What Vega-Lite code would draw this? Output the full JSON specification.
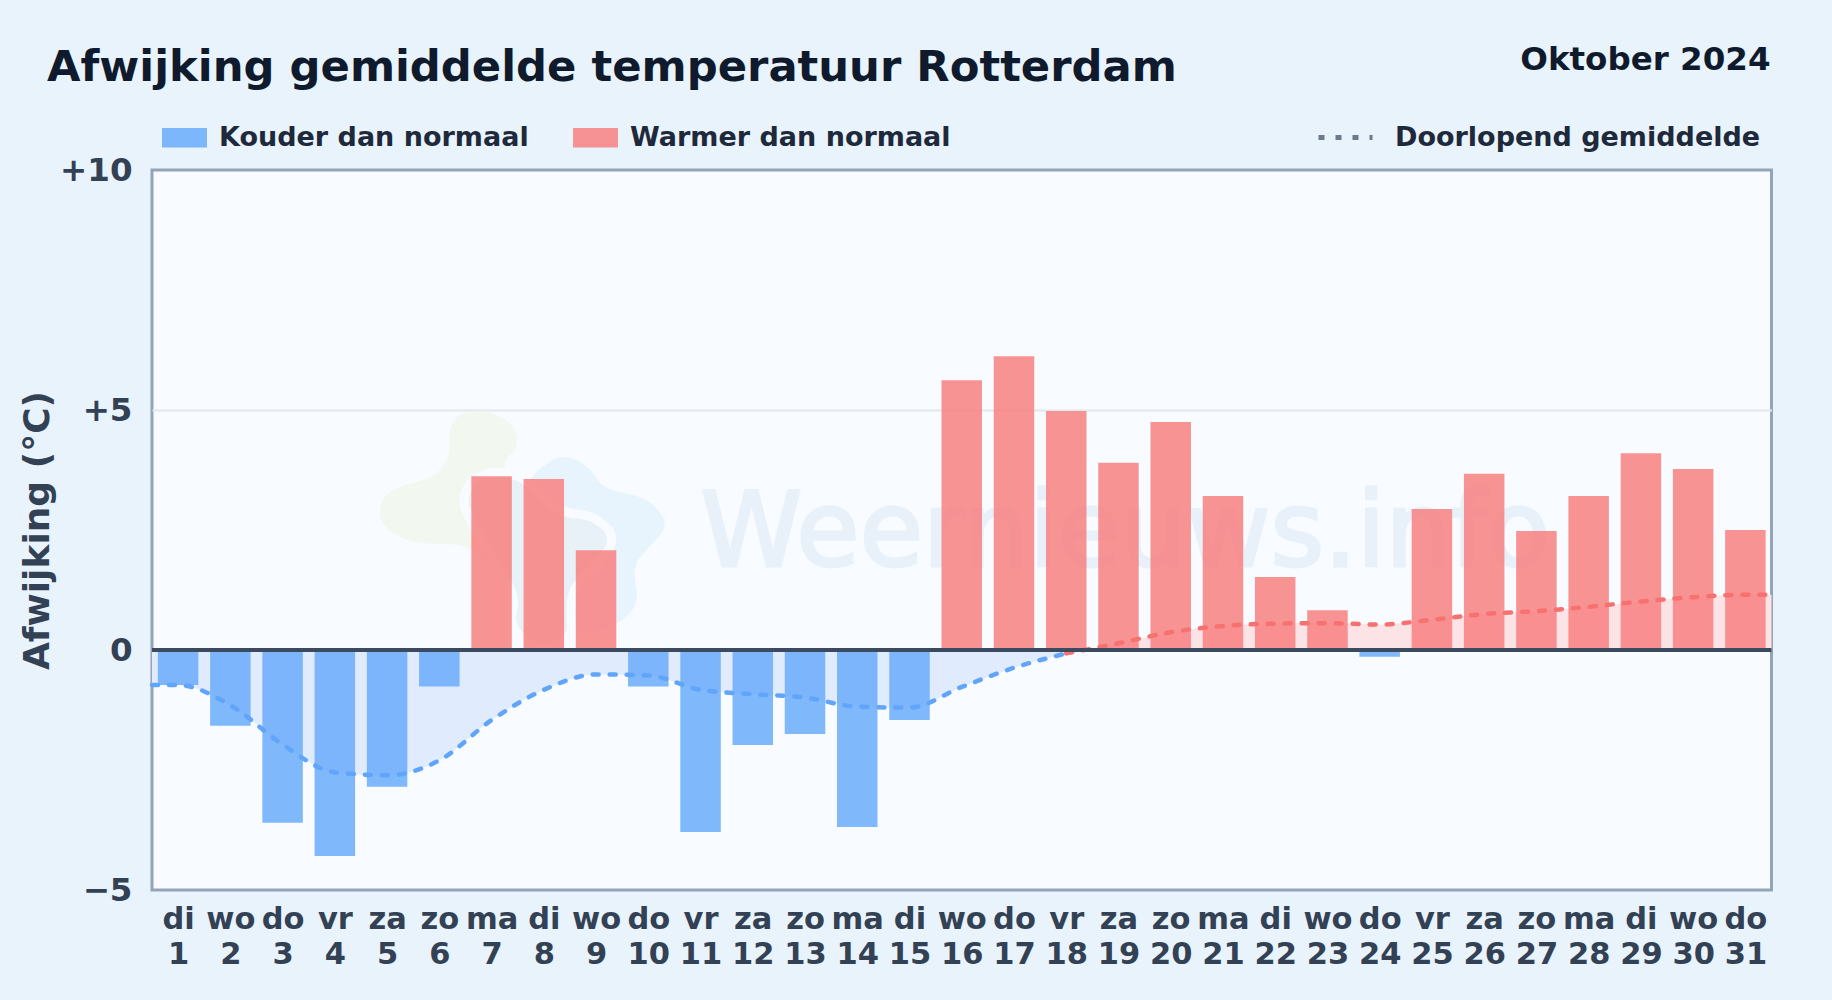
{
"$schema":"https://vega.github.io/schema/vega-lite/v6.json",
"width":1619.5,"height":720,
"autosize":"none",
"padding":{"left":152,"top":170,"right":60,"bottom":110},
"background":"#e9f3fc",
"title":{"text":"Afwijking gemiddelde temperatuur Rotterdam","anchor":"start","frame":"group","dx":-105,"offset":0,"dy":80,"baseline":"alphabetic","font":"DejaVu Sans","fontWeight":"bold","fontSize":43.3,"color":"#0f1b2d"},
"config":{"view":{"fill":"#f8fbff","stroke":"#94a3b8","strokeWidth":3},"font":"DejaVu Sans"},
"datasets":{
"days":[
{"day":1,"dev":-0.73,"type":"Kouder dan normaal"},{"day":2,"dev":-1.58,"type":"Kouder dan normaal"},{"day":3,"dev":-3.6,"type":"Kouder dan normaal"},{"day":4,"dev":-4.29,"type":"Kouder dan normaal"},{"day":5,"dev":-2.85,"type":"Kouder dan normaal"},{"day":6,"dev":-0.76,"type":"Kouder dan normaal"},{"day":7,"dev":3.62,"type":"Warmer dan normaal"},{"day":8,"dev":3.56,"type":"Warmer dan normaal"},{"day":9,"dev":2.08,"type":"Warmer dan normaal"},{"day":10,"dev":-0.76,"type":"Kouder dan normaal"},{"day":11,"dev":-3.79,"type":"Kouder dan normaal"},{"day":12,"dev":-1.98,"type":"Kouder dan normaal"},{"day":13,"dev":-1.75,"type":"Kouder dan normaal"},{"day":14,"dev":-3.69,"type":"Kouder dan normaal"},{"day":15,"dev":-1.46,"type":"Kouder dan normaal"},{"day":16,"dev":5.62,"type":"Warmer dan normaal"},{"day":17,"dev":6.12,"type":"Warmer dan normaal"},{"day":18,"dev":4.98,"type":"Warmer dan normaal"},{"day":19,"dev":3.9,"type":"Warmer dan normaal"},{"day":20,"dev":4.75,"type":"Warmer dan normaal"},{"day":21,"dev":3.21,"type":"Warmer dan normaal"},{"day":22,"dev":1.52,"type":"Warmer dan normaal"},{"day":23,"dev":0.83,"type":"Warmer dan normaal"},{"day":24,"dev":-0.14,"type":"Kouder dan normaal"},{"day":25,"dev":2.94,"type":"Warmer dan normaal"},{"day":26,"dev":3.67,"type":"Warmer dan normaal"},{"day":27,"dev":2.48,"type":"Warmer dan normaal"},{"day":28,"dev":3.21,"type":"Warmer dan normaal"},{"day":29,"dev":4.1,"type":"Warmer dan normaal"},{"day":30,"dev":3.77,"type":"Warmer dan normaal"},{"day":31,"dev":2.5,"type":"Warmer dan normaal"}
],
"mean":[
{"day":0.5,"mean":-0.73,"sign":"neg","name":"Doorlopend gemiddelde"},{"day":1,"mean":-0.73,"sign":"neg","name":"Doorlopend gemiddelde"},{"day":2,"mean":-1.15,"sign":"neg","name":"Doorlopend gemiddelde"},{"day":3,"mean":-1.97,"sign":"neg","name":"Doorlopend gemiddelde"},{"day":4,"mean":-2.55,"sign":"neg","name":"Doorlopend gemiddelde"},{"day":5,"mean":-2.61,"sign":"neg","name":"Doorlopend gemiddelde"},{"day":6,"mean":-2.3,"sign":"neg","name":"Doorlopend gemiddelde"},{"day":7,"mean":-1.46,"sign":"neg","name":"Doorlopend gemiddelde"},{"day":8,"mean":-0.83,"sign":"neg","name":"Doorlopend gemiddelde"},{"day":9,"mean":-0.51,"sign":"neg","name":"Doorlopend gemiddelde"},{"day":10,"mean":-0.53,"sign":"neg","name":"Doorlopend gemiddelde"},{"day":11,"mean":-0.83,"sign":"neg","name":"Doorlopend gemiddelde"},{"day":12,"mean":-0.92,"sign":"neg","name":"Doorlopend gemiddelde"},{"day":13,"mean":-0.99,"sign":"neg","name":"Doorlopend gemiddelde"},{"day":14,"mean":-1.18,"sign":"neg","name":"Doorlopend gemiddelde"},{"day":15,"mean":-1.2,"sign":"neg","name":"Doorlopend gemiddelde"},{"day":16,"mean":-0.77,"sign":"neg","name":"Doorlopend gemiddelde"},{"day":17,"mean":-0.37,"sign":"neg","name":"Doorlopend gemiddelde"},{"day":18,"mean":-0.07,"sign":"neg","name":"Doorlopend gemiddelde"},
{"day":18,"mean":-0.07,"sign":"pos","name":"Doorlopend gemiddelde"},{"day":19,"mean":0.14,"sign":"pos","name":"Doorlopend gemiddelde"},{"day":20,"mean":0.37,"sign":"pos","name":"Doorlopend gemiddelde"},{"day":21,"mean":0.5,"sign":"pos","name":"Doorlopend gemiddelde"},{"day":22,"mean":0.55,"sign":"pos","name":"Doorlopend gemiddelde"},{"day":23,"mean":0.56,"sign":"pos","name":"Doorlopend gemiddelde"},{"day":24,"mean":0.53,"sign":"pos","name":"Doorlopend gemiddelde"},{"day":25,"mean":0.63,"sign":"pos","name":"Doorlopend gemiddelde"},{"day":26,"mean":0.75,"sign":"pos","name":"Doorlopend gemiddelde"},{"day":27,"mean":0.81,"sign":"pos","name":"Doorlopend gemiddelde"},{"day":28,"mean":0.9,"sign":"pos","name":"Doorlopend gemiddelde"},{"day":29,"mean":1.01,"sign":"pos","name":"Doorlopend gemiddelde"},{"day":30,"mean":1.1,"sign":"pos","name":"Doorlopend gemiddelde"},{"day":31,"mean":1.15,"sign":"pos","name":"Doorlopend gemiddelde"},{"day":31.5,"mean":1.15,"sign":"pos","name":"Doorlopend gemiddelde"}
]},
"layer":[
{"data":{"values":[{"d":7.67,"v":2.5}]},"mark":{"type":"point","filled":true,"opacity":1,"size":0.4444,"shape":"M-232,-258 Q-235,-300 -218,-328 Q-200,-355 -150,-356 Q-100,-358 -62,-329 Q-25,-300 -28,-268 Q-30,-235 -55,-220 Q-80,-205 -45,-38 Q-10,130 -55,130 Q-100,130 -135,85 Q-170,40 -250,42 Q-330,45 -385,18 Q-440,-10 -440,-50 Q-440,-90 -415,-110 Q-390,-130 -335,-142 Q-280,-155 -255,-185 Q-230,-215 -232,-258 Z","color":"#f2f8f0"},
 "encoding":{"x":{"field":"d","type":"quantitative","scale":{"domain":[0.5,31.5],"nice":false,"zero":false,"padding":0},"axis":{"values":[1,2,3,4,5,6,7,8,9,10,11,12,13,14,15,16,17,18,19,20,21,22,23,24,25,26,27,28,29,30,31],"title":null,"grid":false,"domain":false,"ticks":false,"labelFontSize":30.5,"labelFontWeight":"bold","labelColor":"#334155","labelPadding":14,"labelBaseline":"top","labelLineHeight":35,"labelOverlap":false,"labelFlush":false,"labelBound":false,"labelExpr":"[['di','wo','do','vr','za','zo','ma'][(datum.value-1)%7], datum.label]"}},
 "y":{"field":"v","type":"quantitative","scale":{"domain":[-5,10],"nice":false,"zero":false},"axis":{"values":[-5,0,5,10],"title":"Afwijking (°C)","titleFontSize":36,"titleFontWeight":"bold","titleColor":"#334155","titleX":-96,"titleY":360,"grid":true,"gridColor":"#e2e8f0","gridWidth":2,"gridOpacity":{"condition":{"test":"datum.value==5","value":1},"value":0},"domain":false,"ticks":false,"labelFontSize":32.5,"labelFontWeight":"bold","labelColor":"#334155","labelPadding":20,"labelExpr":"datum.value>0?'+'+datum.value:datum.value<0?'−'+abs(datum.value):'0'"}}}},
{"data":{"values":[{"d":7.67,"v":2.5}]},"mark":{"type":"point","filled":true,"opacity":1,"size":0.4444,"shape":"M15,-155 Q30,-180 70,-205 Q110,-230 150,-210 Q190,-190 210,-155 Q230,-120 295,-110 Q360,-100 395,-60 Q430,-20 400,15 Q370,50 342,80 Q315,110 328,165 Q340,220 305,255 Q270,290 205,300 Q140,310 90,290 Q40,270 10,170 Q-20,70 -10,-30 Q0,-130 15,-155 Z","color":"#e8f4fd"},"encoding":{"x":{"field":"d","type":"quantitative"},"y":{"field":"v","type":"quantitative"}}},
{"data":{"values":[{"d":7.67,"v":2.5}]},"mark":{"type":"point","filled":true,"opacity":1,"size":0.4444,"shape":"M-182,-60 Q-195,-90 -178,-125 Q-160,-160 -115,-170 Q-70,-180 -25,-160 Q20,-140 60,-95 Q100,-50 150,-48 Q200,-45 235,-12 Q270,20 245,60 Q220,100 180,135 Q140,170 135,210 Q130,250 135,285 Q140,320 90,342 Q40,365 -8,328 Q-55,290 -42,245 Q-30,200 -65,145 Q-100,90 -135,30 Q-170,-30 -182,-60 Z","fill":"#e8f0f8","stroke":"#f8fbff","strokeWidth":9},"encoding":{"x":{"field":"d","type":"quantitative"},"y":{"field":"v","type":"quantitative"}}},
{"data":{"values":[{"d":11.0,"v":1.74,"t":"Weernieuws.info"}]},"mark":{"type":"text","align":"left","baseline":"alphabetic","font":"DejaVu Sans","fontSize":103,"color":"#e8f1fa","stroke":"#e8f1fa","strokeWidth":3},"encoding":{"x":{"field":"d","type":"quantitative"},"y":{"field":"v","type":"quantitative"},"text":{"field":"t"}}},
{"data":{"name":"mean"},"mark":{"type":"area","interpolate":"monotone"},"encoding":{"x":{"field":"day","type":"quantitative"},"y":{"field":"mean","type":"quantitative"},"y2":{"datum":0},"fill":{"field":"sign","type":"nominal","scale":{"domain":["neg","pos"],"range":["#e0ecfd","#fbe3e6"]},"legend":null}}},
{"data":{"name":"days"},"mark":{"type":"bar","orient":"vertical","width":40.5,"opacity":0.85},"encoding":{"x":{"field":"day","type":"quantitative"},"y":{"field":"dev","type":"quantitative","stack":null},"color":{"field":"type","type":"nominal","scale":{"domain":["Kouder dan normaal","Warmer dan normaal"],"range":["#6aabfa","#f88080"]},"legend":{"orient":"none","legendX":10,"legendY":-55,"direction":"horizontal","columns":2,"columnPadding":44,"title":null,"symbolType":"M-1,-0.43 H1 V0.43 H-1 Z","symbolSize":2025,"symbolStrokeWidth":0,"labelOffset":12,"labelLimit":600,"labelFontSize":27,"labelFontWeight":"bold","labelColor":"#1e293b"}}}},
{"data":{"name":"mean"},"mark":{"type":"line","interpolate":"monotone","strokeWidth":4.5,"strokeCap":"round"},"encoding":{"x":{"field":"day","type":"quantitative"},"y":{"field":"mean","type":"quantitative"},"stroke":{"field":"sign","type":"nominal","scale":{"domain":["neg","pos"],"range":["#60a5fa","#f87171"]},"legend":null},"strokeDash":{"field":"name","type":"nominal","scale":{"domain":["Doorlopend gemiddelde"],"range":[[6,11]]},"legend":{"orient":"none","legendX":1164,"legendY":-62,"title":null,"symbolType":"stroke","symbolSize":2916,"symbolStrokeColor":"#6b7a8f","symbolStrokeWidth":5,"labelOffset":20,"labelLimit":600,"labelFontSize":27,"labelFontWeight":"bold","labelColor":"#1e293b"}}}},
{"data":{"values":[{"zero":0}]},"mark":{"type":"rule","color":"#3b4a5e","strokeWidth":4},"encoding":{"y":{"field":"zero","type":"quantitative"}}},
{"data":{"values":[{"d":31.5,"v":12.08,"t":"Oktober 2024"}]},"mark":{"type":"text","align":"right","baseline":"alphabetic","fontWeight":"bold","fontSize":32.5,"color":"#0f1b2d","dx":-1},"encoding":{"x":{"field":"d","type":"quantitative"},"y":{"field":"v","type":"quantitative"},"text":{"field":"t"}}}
]
}
